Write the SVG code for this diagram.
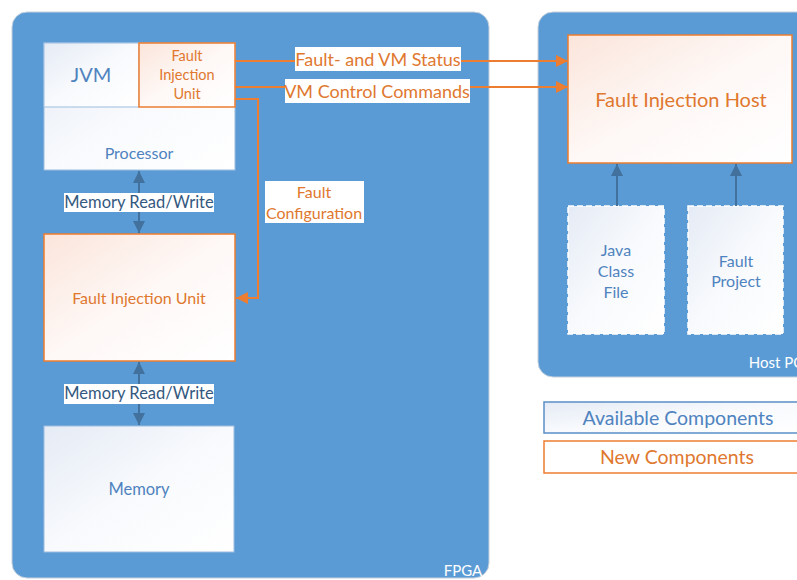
<svg xmlns="http://www.w3.org/2000/svg" width="797" height="580" viewBox="0 0 797 580">
  <style>
    text { font-family: Lato, "Liberation Sans", sans-serif; text-anchor: middle; }
    .panel { fill: #5B9BD5; stroke: #C5D0DC; stroke-width: 1; }
    .blue { fill: url(#gBlue); stroke: #9DBDE0; stroke-width: 1; }
    .orange { fill: url(#gOrange); stroke: #ED7D31; stroke-width: 1.5; }
    .dashed { fill: url(#gBlue); stroke: #FFFFFF; stroke-width: 1.5; stroke-dasharray: 6 3; }
    .tb { fill: #4F83BF; }
    .to { fill: #E0782F; }
    .tw { fill: #FFFFFF; }
    .lbl { fill: #FFFFFF; }
    .wire-o { fill: none; stroke: #ED7D31; stroke-width: 2; }
    .wire-b { fill: none; stroke: #41719C; stroke-width: 2; }
  </style>
  <defs>
    <linearGradient id="gBlue" x1="0" y1="0" x2="1" y2="1">
      <stop offset="0" stop-color="#E5EBF5"/>
      <stop offset="0.5" stop-color="#F8FAFD"/>
      <stop offset="1" stop-color="#FFFFFF"/>
    </linearGradient>
    <linearGradient id="gOrange" x1="0" y1="0" x2="1" y2="1">
      <stop offset="0" stop-color="#FBE5DB"/>
      <stop offset="0.5" stop-color="#FEF8F6"/>
      <stop offset="1" stop-color="#FFFFFF"/>
    </linearGradient>
    <marker id="ahO" markerUnits="userSpaceOnUse" markerWidth="12" markerHeight="12" viewBox="0 0 12 12" refX="12" refY="6" orient="auto">
      <path d="M0,0 L12,6 L0,12 Z" fill="#ED7D31"/>
    </marker>
    <marker id="ahB" markerUnits="userSpaceOnUse" markerWidth="12" markerHeight="12" viewBox="0 0 12 12" refX="12" refY="6" orient="auto-start-reverse">
      <path d="M0,0 L12,6 L0,12 Z" fill="#41719C"/>
    </marker>
  </defs>

  <!-- FPGA panel -->
  <g id="fpga">
    <rect class="panel" x="12" y="12" width="477" height="566" rx="15"/>
    <text class="tw" x="463" y="576" font-size="15">FPGA</text>
  </g>

  <!-- Host PC panel (runs past the right edge) -->
  <g id="host-pc">
    <rect class="panel" x="538" y="12" width="300" height="365" rx="15"/>
    <text class="tw" x="776" y="368" font-size="15">Host PC</text>
  </g>

  <!-- Processor with JVM and embedded fault injection unit -->
  <g id="processor">
    <rect class="blue" x="44" y="43" width="191" height="127"/>
    <text class="tb" x="139" y="159" font-size="16">Processor</text>
  </g>
  <g id="jvm">
    <rect class="blue" x="44" y="43" width="95" height="64"/>
    <text class="tb" x="91" y="82" font-size="20">JVM</text>
  </g>
  <g id="fiu-cpu">
    <rect class="orange" x="139" y="43" width="96" height="64"/>
    <text class="to" font-size="14.5"><tspan x="187" y="61">Fault</tspan><tspan x="187" y="80">Injection</tspan><tspan x="187" y="99">Unit</tspan></text>
  </g>

  <!-- Memory-side fault injection unit -->
  <g id="fiu-mem">
    <rect class="orange" x="44" y="234" width="191" height="127"/>
    <text class="to" x="139" y="304" font-size="16">Fault Injection Unit</text>
  </g>

  <!-- Memory -->
  <g id="memory">
    <rect class="blue" x="44" y="426" width="190" height="126"/>
    <text class="tb" x="139" y="495" font-size="16.5">Memory</text>
  </g>

  <!-- Host side -->
  <g id="fault-injection-host">
    <rect class="orange" x="568" y="35" width="224" height="128"/>
    <text class="to" x="681" y="107" font-size="20">Fault Injection Host</text>
  </g>
  <g id="java-class-file">
    <rect class="dashed" x="568" y="206" width="96" height="128"/>
    <text class="tb" font-size="16"><tspan x="616" y="256">Java</tspan><tspan x="616" y="277">Class</tspan><tspan x="616" y="298">File</tspan></text>
  </g>
  <g id="fault-project">
    <rect class="dashed" x="688" y="206" width="95" height="128"/>
    <text class="tb" font-size="16"><tspan x="736" y="267">Fault</tspan><tspan x="736" y="287">Project</tspan></text>
  </g>

  <!-- Legend -->
  <g id="legend-available">
    <rect x="544" y="402" width="270" height="31" fill="url(#gBlue)" stroke="#5B8EC8" stroke-width="1.5"/>
    <text class="tb" x="678" y="425" font-size="19.5">Available Components</text>
  </g>
  <g id="legend-new">
    <rect x="544" y="441" width="270" height="32" fill="#FFFFFF" stroke="#ED7D31" stroke-width="1.5"/>
    <text class="to" x="677" y="464" font-size="19.5">New Components</text>
  </g>

  <!-- Connectors -->
  <g id="connectors">
    <path class="wire-o" d="M235,61 H568" marker-end="url(#ahO)"/>
    <path class="wire-o" d="M235,87 H568" marker-end="url(#ahO)"/>
    <path class="wire-o" d="M235,99 H258 V298 H236" marker-end="url(#ahO)"/>
    <path class="wire-b" d="M139,171 V233" marker-start="url(#ahB)" marker-end="url(#ahB)"/>
    <path class="wire-b" d="M139,362 V425" marker-start="url(#ahB)" marker-end="url(#ahB)"/>
    <path class="wire-b" d="M617,206 V164" marker-end="url(#ahB)"/>
    <path class="wire-b" d="M736,206 V164" marker-end="url(#ahB)"/>

    <rect class="lbl" x="295" y="47" width="166" height="24"/>
    <text class="to" x="378" y="66" font-size="18">Fault- and VM Status</text>
    <rect class="lbl" x="285" y="79" width="185" height="24"/>
    <text class="to" x="377" y="98" font-size="18">VM Control Commands</text>
    <rect class="lbl" x="265" y="181" width="99" height="42"/>
    <text class="to" font-size="16"><tspan x="314" y="198">Fault</tspan><tspan x="314" y="219">Configuration</tspan></text>
    <rect class="lbl" x="64" y="193" width="150" height="19"/>
    <text fill="#34597F" x="139" y="208" font-size="16.5">Memory Read/Write</text>
    <rect class="lbl" x="64" y="384" width="150" height="20"/>
    <text fill="#34597F" x="139" y="399" font-size="16.5">Memory Read/Write</text>
  </g>
</svg>
